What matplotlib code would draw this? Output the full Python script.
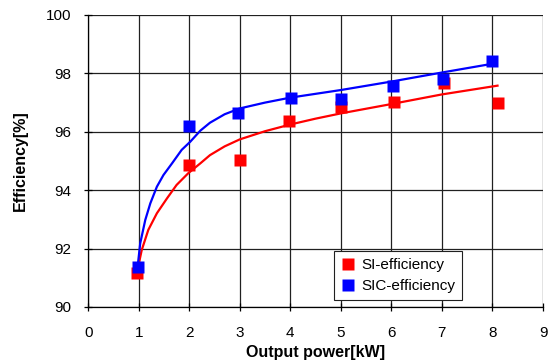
import matplotlib
matplotlib.use('Agg')
import matplotlib.pyplot as plt

plt.rcParams['font.family'] = ['Liberation Sans', 'DejaVu Sans']

# measured points
si_x = [0.97, 2.0, 3.0, 3.98, 5.0, 6.05, 7.04, 8.1]
si_eff = [91.17, 94.87, 95.03, 96.38, 96.84, 97.02, 97.68, 96.99]
sic_x = [0.99, 2.0, 2.97, 4.01, 5.0, 6.03, 7.02, 8.0]
sic_eff = [91.38, 96.2, 96.63, 97.17, 97.12, 97.57, 97.82, 98.44]

# trend lines
si_fit_x = [0.98, 1.06, 1.19, 1.36, 1.56, 1.75, 1.98, 2.22, 2.41, 2.7, 3.0,
            3.5, 4.0, 4.5, 5.0, 6.0, 7.0, 8.1]
si_fit_y = [91.3, 91.95, 92.64, 93.21, 93.72, 94.18, 94.58, 94.92, 95.2, 95.5, 95.74,
            96.02, 96.25, 96.45, 96.63, 96.95, 97.28, 97.58]
sic_fit_x = [0.98, 1.03, 1.13, 1.23, 1.36, 1.49, 1.66, 1.85, 2.02, 2.22, 2.41, 2.7,
             3.0, 3.5, 4.0, 4.5, 5.0, 6.0, 7.0, 8.0]
sic_fit_y = [91.4, 92.18, 92.98, 93.55, 94.12, 94.52, 94.92, 95.38, 95.66, 96.04, 96.31,
             96.6, 96.8, 97.0, 97.17, 97.3, 97.43, 97.72, 98.03, 98.33]

fig = plt.figure(figsize=(5.51, 3.63), dpi=100)
ax = fig.add_axes([0.16, 0.1543, 0.8255, 0.8044])

ax.plot(si_fit_x, si_fit_y, color='#ff0000', lw=1.6, zorder=3)
ax.plot(sic_fit_x, sic_fit_y, color='#0000ff', lw=1.6, zorder=3)
ax.plot(si_x, si_eff, 's', color='#ff0000', ms=9, mec='none', label='SI-efficiency', zorder=4)
ax.plot(sic_x, sic_eff, 's', color='#0000ff', ms=9, mec='none', label='SIC-efficiency', zorder=5)

ax.set_xlim(0, 9)
ax.set_ylim(90, 100)
ax.set_xticks(range(0, 10))
ax.set_yticks(range(90, 101, 2))
ax.grid(True, color='#202020', lw=0.9)
ax.set_axisbelow(True)
for s in ['top', 'right']:
    ax.spines[s].set_visible(False)
ax.spines['left'].set_linewidth(0.9)
ax.spines['bottom'].set_linewidth(0.9)
ax.tick_params(direction='inout', length=6, width=0.9, labelsize=11)
ax.tick_params(axis='x', pad=10.5)
ax.tick_params(axis='y', pad=9)

ax.set_xlabel('Output power[kW]', fontsize=11.5, fontweight='bold', labelpad=4)
ax.set_ylabel('Efficiency[%]', fontsize=11.5, fontweight='bold', labelpad=13)

leg = ax.legend(loc='lower left', bbox_to_anchor=(0.541, 0.024), borderaxespad=0,
                fontsize=11, handlelength=0.9, handletextpad=0.4, markerscale=1.0,
                fancybox=False, framealpha=1, edgecolor='#202020', borderpad=0.45,
                labelspacing=0.45)
leg.get_frame().set_linewidth(0.8)

fig.savefig('out.png', dpi=100)
